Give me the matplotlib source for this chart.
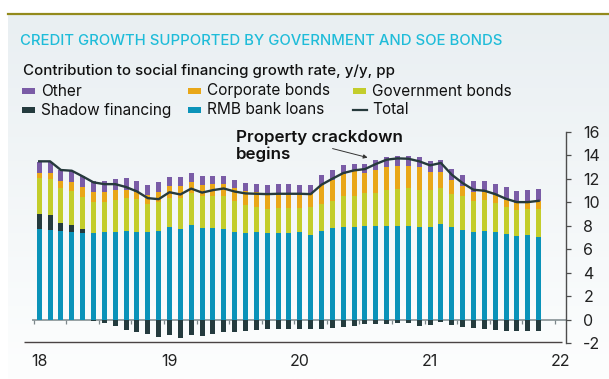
import numpy as np
import matplotlib
matplotlib.use('Agg')
import matplotlib.pyplot as plt
from matplotlib.patches import Rectangle
from matplotlib.lines import Line2D

# monthly data, Jan 2018 - Nov 2021 (pp contribution, y/y)
year_labels = ['18', '19', '20', '21', '22']
rmb_loans = [7.71, 7.65, 7.56, 7.45, 7.39, 7.39, 7.48, 7.48, 7.53, 7.48, 7.48, 7.56,
             7.90, 7.73, 8.08, 7.85, 7.85, 7.76, 7.51, 7.42, 7.45, 7.39, 7.39, 7.39,
             7.45, 7.25, 7.56, 7.82, 7.93, 7.93, 7.99, 7.99, 7.99, 8.02, 8.02, 7.93,
             7.93, 8.16, 7.88, 7.65, 7.51, 7.56, 7.51, 7.31, 7.17, 7.22, 7.05]
shadow = [1.30, 1.28, 0.69, 0.65, 0.37, -0.12, -0.31, -0.51, -0.88, -1.05, -1.22, -1.45,
          -1.31, -1.51, -1.31, -1.36, -1.22, -1.02, -1.05, -0.97, -0.91, -0.82, -0.82, -0.80,
          -0.82, -0.82, -0.80, -0.68, -0.63, -0.54, -0.40, -0.34, -0.34, -0.28, -0.31, -0.51,
          -0.45, -0.23, -0.48, -0.65, -0.74, -0.80, -0.85, -0.94, -0.97, -0.97, -0.97]
gov_bonds = [3.05, 3.04, 2.92, 2.88, 2.65, 2.65, 2.56, 2.73, 2.82, 2.78, 2.39, 2.45,
             2.42, 2.62, 2.70, 2.64, 2.70, 2.73, 2.56, 2.36, 2.13, 2.05, 2.11, 2.11,
             2.10, 2.33, 2.31, 2.25, 2.56, 2.56, 2.79, 2.81, 3.07, 3.13, 3.18, 3.13,
             3.07, 3.04, 2.84, 2.90, 2.61, 2.62, 2.41, 2.30, 2.18, 2.19, 2.36]
corp_bonds = [0.42, 0.51, 0.66, 0.76, 0.85, 0.79, 0.79, 0.79, 0.71, 0.57, 0.76, 0.85,
              1.08, 0.99, 0.96, 1.00, 1.02, 1.05, 1.13, 1.14, 1.28, 1.25, 1.08, 1.08,
              1.17, 1.14, 1.56, 1.79, 1.94, 2.13, 1.67, 1.94, 1.91, 1.90, 1.85, 1.91,
              1.54, 1.40, 1.14, 0.79, 0.71, 0.65, 0.66, 0.60, 0.57, 0.57, 0.71]
other = [0.97, 0.91, 0.91, 0.91, 0.99, 0.94, 0.94, 1.00, 1.00, 0.94, 0.86, 0.83,
         0.74, 0.77, 0.74, 0.71, 0.68, 0.66, 0.66, 0.71, 0.71, 0.74, 0.94, 0.94,
         0.77, 0.77, 0.85, 0.85, 0.76, 0.63, 0.80, 0.88, 0.85, 0.88, 0.88, 0.85,
         0.94, 0.99, 0.96, 0.94, 0.94, 0.94, 0.96, 1.05, 1.06, 1.05, 1.00]
total = [13.48, 13.48, 12.74, 12.68, 12.20, 11.69, 11.54, 11.54, 11.29, 10.92, 10.35, 10.26,
         10.85, 10.66, 11.16, 10.82, 11.03, 11.17, 10.91, 10.75, 10.72, 10.69, 10.72, 10.72,
         10.72, 10.69, 11.49, 12.00, 12.48, 12.71, 12.82, 13.25, 13.62, 13.73, 13.70, 13.48,
         13.14, 13.34, 12.34, 11.63, 11.06, 10.98, 10.69, 10.29, 10.01, 10.01, 10.12]

c_loans = '#0b93b9'
c_shadow = '#243b3e'
c_gov = '#c3cd2b'
c_corp = '#e9a718'
c_other = '#7a5ca6'
c_total = '#263a3c'

plt.rcParams['font.family'] = ['Inter', 'DejaVu Sans']
plt.rcParams['axes.unicode_minus'] = False

W, H = 609, 379
fig = plt.figure(figsize=(W / 100, H / 100), dpi=100)


def fx(x):
    return x / W


def fy(y):
    return 1 - y / H


# background panel with soft vertical gradient
bg = fig.add_axes([fx(8), 0, 1 - fx(8), fy(15)], zorder=-10)
grad = np.linspace(0, 1, 256)[:, None]
top_rgb = np.array([233, 239, 242]) / 255
bot_rgb = np.array([253, 254, 254]) / 255
img = top_rgb[None, None, :] * (1 - grad[:, :, None]) + bot_rgb[None, None, :] * grad[:, :, None]
bg.imshow(img, aspect='auto', extent=[0, 1, 0, 1])
bg.axis('off')
fig.add_artist(Line2D([fx(8), 1], [fy(14), fy(14)], transform=fig.transFigure,
                      color='#938a1c', lw=1.6))

# main axes
ax = fig.add_axes([fx(24), fy(343.3), fx(566) - fx(24), (343.3 - 131.7) / H])
ax.set_facecolor('none')

n = len(rmb_loans)
x = np.arange(n)
loans = np.array(rmb_loans)
sh = np.array(shadow)
gov = np.array(gov_bonds)
corp = np.array(corp_bonds)
oth = np.array(other)

w = 0.47
base_gov = loans + np.clip(sh, 0, None)
sh_bottom = np.where(sh > 0, loans, 0)
ax.bar(x, loans, w, color=c_loans, zorder=2)
ax.bar(x, sh, w, bottom=sh_bottom, color=c_shadow, zorder=2)
ax.bar(x, gov, w, bottom=base_gov, color=c_gov, zorder=2)
ax.bar(x, corp, w, bottom=base_gov + gov, color=c_corp, zorder=2)
ax.bar(x, oth, w, bottom=base_gov + gov + corp, color=c_other, zorder=2)
ax.plot(x, total, color=c_total, lw=1.7, zorder=3)

x0, x1 = -1.4, 48.52
ax.set_xlim(x0, x1)
ax.set_ylim(-2, 16)

# zero line with quarterly ticks
ax.hlines(0, -0.7, x1, color='#7d878b', lw=1.1, zorder=1)
quarters = np.arange(-0.5, x1, 3)
ax.plot(quarters, np.zeros_like(quarters), ls='none', marker=3, ms=3,
        mew=0.9, color='#7d878b', zorder=1)

# axes styling
for s in ['top', 'left', 'bottom']:
    ax.spines[s].set_visible(False)
ax.hlines(-1.9, x0, x1 - 0.4, color='#4a4444', lw=1.0, clip_on=False)
ax.spines['right'].set_color('#4d4d4d')
ax.spines['right'].set_linewidth(1.0)
ax.yaxis.tick_right()
ax.set_yticks(np.arange(-2, 17, 2))
ax.tick_params(axis='y', direction='out', length=3.5, width=0.9, color='#4d4d4d',
               pad=9, labelsize=11.5, labelcolor='#222222')
ax.set_xticks(np.arange(0, 49, 12))
ax.set_xticklabels(year_labels)
ax.tick_params(axis='x', length=0, pad=8, labelsize=11.5, labelcolor='#222222')

# annotation
ax.text((237 - 40.2) / 10.837, (319.7 - 146.5) / 11.72, 'Property crackdown\nbegins',
        fontsize=12.2, fontweight='semibold', color='#111111', va='center', ha='left',
        linespacing=1.08, zorder=4)
ax.annotate('', xy=((368 - 40.2) / 10.837, (319.7 - 158) / 11.72),
            xytext=((333 - 40.2) / 10.837, (319.7 - 149) / 11.72),
            arrowprops=dict(arrowstyle='-|>', color='#333333', lw=0.7,
                            mutation_scale=6, shrinkA=0, shrinkB=0), zorder=4)

# titles
fig.text(fx(20), fy(41), 'CREDIT GROWTH SUPPORTED BY GOVERNMENT AND SOE BONDS',
         color='#1fbcd9', fontsize=10.7, fontweight='medium', va='center', ha='left')
fig.text(fx(23), fy(71), 'Contribution to social financing growth rate, y/y, pp',
         color='#111111', fontsize=10.85, fontweight='medium', va='center', ha='left')

# legend
leg_labels = ['Other', 'Corporate bonds', 'Government bonds',
              'Shadow financing', 'RMB bank loans', 'Total']
leg_colors = [c_other, c_corp, c_gov, c_shadow, c_loans, c_total]
col_x = [22, 188, 353]
row_y = [91, 110]
for i, (lab, col) in enumerate(zip(leg_labels, leg_colors)):
    cx = col_x[i % 3]
    ry = row_y[i // 3]
    if lab == 'Total':
        fig.add_artist(Line2D([fx(cx), fx(cx + 14)], [fy(ry), fy(ry)],
                              transform=fig.transFigure, color=col, lw=1.6))
    else:
        fig.add_artist(Rectangle((fx(cx), fy(ry + 3)), fx(13), 6.5 / H,
                                 transform=fig.transFigure, color=col, lw=0))
    fig.text(fx(cx + 19), fy(ry), lab, color='#111111', fontsize=11.1,
             va='center', ha='left')

fig.savefig('out.png', dpi=100)
